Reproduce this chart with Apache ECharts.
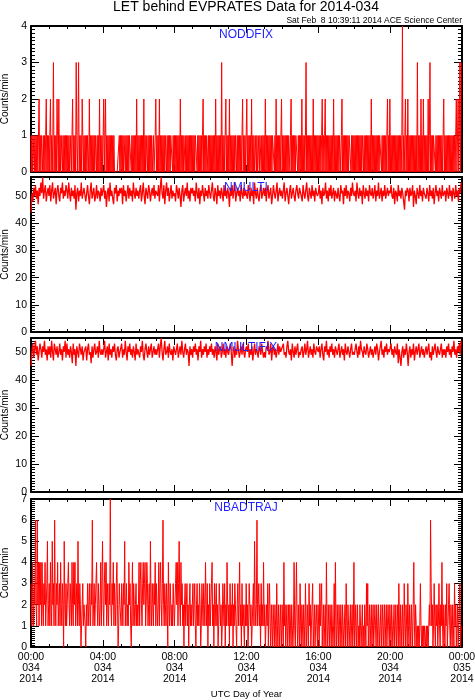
<!DOCTYPE html>
<html>
<head>
<meta charset="utf-8">
<script src="https://cdn.jsdelivr.net/npm/echarts@6/dist/echarts.min.js"></script>
<style>
html,body{margin:0;padding:0;background:#fff}
#chart{width:475px;height:700px}
</style>
</head>
<body>
<div id="chart"></div>
<script>
(function(){

// 2014 day 034, one row per hour
// NODDFIX and NBADTRAJ: a sample every 2 minutes, NMULTI / NMULTIFIX: every 3 minutes
var noddfixStep = 2;
var noddfix = [
  1,0,1,0,1,1,0,1,0,1, 0,1,0,1,2,0,1,0,1,1, 0,1,0,1,0,1,2,0,1,0,
  1,0,1,2,0,1,0,1,3,0, 1,0,1,0,2,1,0,2,0,1, 0,1,1,0,1,0,1,0,1,0,
  1,0,1,0,1,0,0,1,0,1, 2,0,1,0,1,0,3,1,0,1, 3,0,1,0,1,0,2,1,0,1,
  0,1,0,1,0,1,1,0,2,0, 1,0,1,0,1,0,1,0,1,1, 0,1,0,1,0,2,0,1,0,1,
  0,1,2,0,1,2,0,1,0,1, 0,1,0,1,0,1,0,1,0,1, 0,0,0,0,0,0,0,0,1,0,
  1,0,1,0,1,0,1,1,0,1, 0,1,0,1,0,1,1,1,0,1, 0,1,0,1,0,1,0,2,0,1,
  0,1,0,1,0,1,0,1,0,2, 0,1,0,1,1,0,1,0,1,0, 1,0,1,0,0,1,0,0,1,2,
  0,1,0,1,0,2,0,1,0,1, 0,1,0,1,0,1,1,0,1,0, 1,0,1,0,1,1,1,0,1,0,
  1,0,1,0,1,0,1,0,1,0, 2,0,1,0,1,0,1,1,0,1, 0,1,0,1,0,1,0,1,0,1,
  0,1,0,1,0,1,1,1,0,1, 0,1,0,1,0,1,0,1,2,0, 1,0,1,0,1,1,0,1,0,1,
  0,1,0,1,0,1,0,1,0,2, 0,1,0,1,0,1,0,1,0,3, 0,1,0,1,0,1,2,0,1,0,
  1,0,2,0,1,0,1,0,1,0, 1,0,1,1,0,1,0,1,0,1, 0,1,0,1,2,0,1,0,1,0,
  1,2,0,1,0,1,0,1,0,2, 0,1,0,1,0,0,1,0,1,0, 0,1,0,1,1,0,1,0,1,0,
  1,0,2,0,1,0,1,0,1,0, 1,0,1,0,1,1,1,0,1,0, 2,0,1,0,1,0,1,0,1,2,
  0,1,0,1,0,1,0,1,0,1, 0,1,1,0,1,2,0,1,0,1, 0,1,0,1,1,1,0,1,0,1,
  0,1,0,2,0,1,0,1,0,1, 3,0,1,0,1,0,1,0,1,0, 1,0,2,0,1,0,1,0,1,0,
  1,0,1,0,1,0,1,2,0,1, 0,1,2,0,1,0,1,0,1,0, 1,0,1,0,1,0,2,0,1,0,
  1,0,1,0,1,0,1,1,0,1, 2,0,1,0,1,0,1,0,1,0, 1,0,1,1,1,0,1,0,1,0,
  1,0,1,0,1,0,1,0,1,0, 1,0,1,0,1,1,0,1,0,1, 0,1,0,1,0,1,0,1,0,2,
  0,1,0,1,0,1,0,1,0,1, 0,1,0,1,1,1,0,1,0,1, 0,1,0,1,0,1,2,0,1,0,
  2,0,1,0,1,0,1,0,1,0, 1,0,1,0,1,0,1,0,1,0, 1,4,0,1,0,1,2,0,1,0,
  2,0,1,0,1,0,1,0,1,0, 1,0,1,0,1,0,3,0,1,0, 1,0,2,0,1,0,2,0,1,0,
  1,0,1,0,2,0,1,3,0,1, 0,1,0,1,1,1,0,1,0,1, 0,1,0,1,0,1,0,1,0,1,
  2,0,1,0,1,0,1,0,1,0, 1,0,1,0,1,0,1,0,1,0, 1,2,0,1,2,0,1,3,0,3
];

var nmultiStep = 3;
var nmulti = [
  44,51,48,53,50,54,49,52,47,53,50,55,51,57,49,52,54,48,51,53,
  50,54,48,52,55,49,51,53,47,52,54,50,48,53,51,55,49,52,50,54,
  52,49,55,51,48,53,50,52,49,54,45,51,53,48,52,50,55,49,51,53,
  53,48,51,54,50,47,52,55,49,51,53,48,50,54,49,52,51,48,53,50,
  50,54,49,52,46,51,53,48,55,50,52,49,47,53,51,54,48,52,50,53,
  51,53,47,54,50,52,48,51,54,49,53,50,52,48,55,51,49,53,50,52,
  49,52,54,48,51,55,50,47,53,51,49,54,52,48,51,53,50,54,49,52,
  52,50,54,48,53,57,51,49,54,47,52,55,50,53,48,51,54,49,52,50,
  51,48,54,52,49,53,50,46,52,54,48,51,53,50,55,49,52,48,53,51,
  53,50,52,48,55,51,49,53,47,52,50,54,51,48,53,50,52,49,54,51,
  49,52,55,50,48,53,51,47,54,50,52,49,53,51,48,54,50,52,49,53,
  51,46,53,50,54,49,52,55,48,51,53,50,52,48,54,51,49,53,50,52,
  52,49,54,51,48,53,50,52,47,55,51,49,53,50,48,52,54,49,51,53,
  50,53,48,52,54,49,51,53,47,50,54,51,49,52,55,48,51,53,50,52,
  49,52,55,48,51,53,50,47,52,54,49,51,53,50,48,52,54,51,49,53,
  53,50,48,54,51,49,52,55,50,48,53,51,49,54,50,52,48,53,51,50,
  51,54,49,52,47,53,50,51,55,49,52,48,53,50,54,49,51,53,48,52,
  52,49,53,50,48,54,51,52,47,53,50,54,49,52,51,48,53,50,55,51,
  50,52,48,55,51,49,53,50,52,47,54,51,49,53,50,52,48,54,51,50,
  53,49,51,54,48,52,50,55,49,51,53,48,52,50,54,49,51,53,50,52,
  51,54,50,49,53,47,52,51,48,54,50,52,49,53,51,48,45,52,50,53,
  52,48,53,50,51,54,46,52,50,47,53,51,49,54,50,52,48,53,51,50,
  49,53,51,48,54,50,52,49,53,47,51,54,50,52,48,53,51,49,54,50,
  50,52,48,53,51,49,54,50,52,48,53,51,49,54,50,52,48,53,51,55
];

var nmultifixStep = 3;
var nmultifix = [
  45,50,53,48,51,54,49,52,47,50,53,51,48,52,50,54,49,51,47,52,
  49,52,48,54,50,47,53,51,49,52,48,50,53,49,51,47,52,50,54,48,
  53,49,51,48,52,50,46,53,49,51,45,52,50,48,53,51,49,52,47,50,
  50,52,47,51,53,49,50,46,52,48,51,53,49,50,52,48,54,50,49,51,
  49,51,54,48,50,52,47,53,49,51,48,52,50,53,49,47,51,52,48,50,
  50,53,48,51,49,54,50,47,52,50,53,49,51,48,52,50,47,53,49,51,
  51,48,52,50,54,49,47,51,53,50,48,52,49,51,53,48,50,52,49,51,
  49,51,53,48,52,55,50,47,51,54,49,50,52,48,53,50,49,51,47,52,
  52,49,51,53,48,50,52,49,54,50,48,51,53,49,51,50,45,52,49,51,
  48,52,50,53,49,51,47,52,50,54,48,51,49,52,50,53,48,51,49,52,
  50,53,49,51,48,52,50,47,53,49,51,52,48,50,53,49,51,48,52,50,
  49,51,53,50,45,50,52,48,51,49,54,51,48,50,52,49,53,50,48,51,
  52,50,53,48,51,49,52,47,50,53,49,51,50,48,52,51,49,53,50,48,
  50,48,52,51,54,49,50,53,47,51,52,49,51,48,50,53,49,52,50,51,
  51,53,49,50,48,52,54,50,49,51,47,53,50,48,52,49,51,53,48,50,
  49,51,52,48,50,53,49,51,54,48,50,52,49,51,48,53,50,49,52,51,
  50,52,48,51,53,49,47,52,50,54,49,51,48,52,50,53,49,51,48,52,
  52,49,51,53,48,50,52,49,51,47,53,50,49,52,50,48,51,53,49,50,
  49,51,53,50,48,52,49,54,51,50,48,52,50,49,53,51,48,50,52,49,
  51,48,50,52,49,53,51,47,50,52,54,49,51,48,52,50,53,49,51,50,
  50,53,49,51,48,52,50,49,53,46,51,48,45,50,52,48,51,49,53,50,
  45,50,52,48,51,49,53,47,50,52,49,51,53,48,50,52,49,51,48,50,
  52,49,51,53,48,50,47,52,49,51,53,50,48,52,50,49,51,53,48,51,
  49,51,48,52,50,53,49,51,48,52,50,54,49,51,48,52,50,53,49,54
];

var nbadtrajStep = 2;
var nbadtraj = [
  3,2,1,4,2,1,3,2,6,2, 1,6,2,4,1,4,2,4,1,4, 2,1,3,2,4,1,2,3,5,1,
  2,3,1,4,2,1,5,2,3,1, 6,2,1,3,2,4,1,2,3,1, 4,2,1,3,2,0,5,2,1,3,
  1,2,3,4,2,1,3,2,1,4, 2,1,4,2,4,1,2,3,1,5, 2,1,3,2,0,1,2,3,1,2,
  2,1,0,2,1,3,2,1,3,2, 1,3,2,6,1,2,3,1,2,3, 4,2,1,3,2,1,2,4,1,3,
  5,2,1,3,4,2,4,1,3,2, 1,3,2,7,2,1,3,2,4,1, 3,2,1,3,4,2,0,1,3,2,
  2,1,3,2,1,3,2,5,1,2, 3,1,2,1,4,2,3,1,0,2, 4,1,3,2,1,2,3,1,2,1,
  2,4,1,3,4,2,1,3,4,2, 3,4,1,2,4,3,1,2,3,1, 5,2,1,3,2,1,3,2,4,1,
  3,2,1,2,4,1,3,4,2,1, 3,6,2,1,3,2,1,3,2,0, 4,2,1,3,2,1,2,1,3,2,
  1,2,3,4,2,4,1,3,5,2, 1,4,2,3,1,2,0,2,3,1, 2,3,1,2,0,2,3,1,2,1,
  2,3,1,2,3,1,0,2,3,1, 2,1,3,2,0,1,3,2,1,3, 2,1,4,2,1,3,0,2,1,3,
  1,2,3,4,1,2,0,3,1,2, 3,1,2,0,1,3,2,1,2,0, 1,3,2,1,3,0,2,1,4,2,
  1,2,0,3,1,2,1,3,0,2, 1,3,2,1,0,2,3,1,2,4, 1,2,0,3,1,2,1,0,2,1,
  3,1,2,0,1,3,2,1,2,0, 1,2,3,1,5,2,1,2,6,1, 2,3,1,2,0,3,1,2,1,4,
  1,2,0,1,2,1,3,0,2,3, 1,0,2,1,0,2,1,0,2,1, 0,3,1,0,2,1,0,2,1,0,
  2,1,0,4,1,2,0,1,2,0, 1,2,0,2,1,0,2,1,0,1, 4,1,0,2,4,1,0,2,1,0,
  3,1,0,2,1,0,2,1,0,3, 1,0,2,1,0,3,1,2,0,1, 2,3,0,1,2,0,1,2,1,0,
  2,1,0,3,1,2,3,0,1,2, 0,1,2,0,4,1,0,2,1,0, 2,1,0,2,1,0,1,3,0,4,
  1,0,2,1,0,2,1,0,2,1, 0,2,1,0,1,2,0,3,1,0, 2,1,0,1,2,0,1,2,0,1,
  4,0,1,2,0,1,2,0,1,0, 2,1,0,1,2,0,1,0,2,1, 0,3,1,3,0,1,2,0,1,2,
  0,1,2,0,1,2,1,0,2,1, 0,2,1,0,1,2,0,1,2,0, 1,2,0,1,2,0,1,2,1,0,
  2,1,0,2,1,0,1,2,0,1, 2,0,1,2,0,3,1,0,2,1, 0,2,1,0,3,1,0,2,1,0,
  3,1,0,2,1,0,2,1,0,2, 4,1,0,2,1,0,1,0,1,0, 1,3,1,0,1,0,1,0,1,1,
  0,1,0,1,0,1,2,1,6,3, 1,2,0,1,3,1,0,2,1,2, 0,1,3,1,0,2,1,4,1,0,
  2,1,0,2,1,3,0,1,2,3, 1,0,2,1,0,2,1,0,3,1, 2,0,1,2,0,1,2,3,0,1
];

var panelNames = ['NODDFIX', 'NMULTI', 'NMULTIFIX', 'NBADTRAJ'];
var panelData = [noddfix, nmulti, nmultifix, nbadtraj];
var panelSteps = [noddfixStep, nmultiStep, nmultifixStep, nbadtrajStep];
var yIntervals = [1, 10, 10, 1];

var hourLabels = ['00:00', '04:00', '08:00', '12:00', '16:00', '20:00', '00:00'];
var dayLabels = ['034', '034', '034', '034', '034', '034', '035'];
var yearLabel = '2014';

var FONT = "'Liberation Sans', Arial, sans-serif";
var grids = [
  {left: 31, right: 13, top: 26, height: 146, outerBoundsMode: 'none'},
  {left: 31, right: 13, top: 177, height: 155, outerBoundsMode: 'none'},
  {left: 31, right: 13, top: 338, height: 154, outerBoundsMode: 'none'},
  {left: 31, right: 13, top: 499, height: 148, outerBoundsMode: 'none'}
];
var labelY = [35, 188, 348, 508];

// one axis; major ones carry the frame line, minor ones only short ticks
function makeAxis(gi, pos, interval, tickLen, major, axMax) {
  return {
    gridIndex: gi, type: 'value', position: pos,
    min: 0, max: axMax, interval: interval,
    axisLine: {show: major, onZero: false, lineStyle: {color: '#000', width: 2}},
    axisTick: {show: true, inside: true, length: tickLen, lineStyle: {color: '#000', width: 1}},
    splitLine: {show: false},
    axisLabel: {show: false}
  };
}

var xAxes = [], yAxes = [], series = [], texts = [];
panelData.forEach(function(arr, gi) {
  var yi = yIntervals[gi];
  // y range runs from 0 to the largest count of the panel
  var yMax = Math.max.apply(null, arr);
  ['bottom', 'top'].forEach(function(pos) {
    xAxes.push(makeAxis(gi, pos, 240, 7, true, 1440));
    xAxes.push(makeAxis(gi, pos, 60, 3, false, 1440));
  });
  ['left', 'right'].forEach(function(pos) {
    yAxes.push(makeAxis(gi, pos, yi, 8, true, yMax));
    yAxes.push(makeAxis(gi, pos, yi / 10, 4, false, yMax));
  });

  var yMain = yAxes[gi * 4];
  yMain.axisLabel = {
    show: true, color: '#000', fontFamily: FONT, fontSize: 10.5, margin: 4,
    inside: false, align: 'right',
    showMaxLabel: yMax % yi === 0
  };
  yMain.name = 'Counts/min';
  yMain.nameLocation = 'middle';
  yMain.nameGap = 21;
  yMain.nameMoveOverlap = false;
  yMain.nameTextStyle = {color: '#000', fontFamily: FONT, fontSize: 10};

  if (gi === 3) {
    var xMain = xAxes[gi * 4];
    xMain.axisLabel = {
      show: true, color: '#000', fontFamily: FONT, fontSize: 10.5, lineHeight: 11, margin: 5,
      formatter: function(v) {
        var k = Math.round(v / 240);
        return hourLabels[k] + '\n' + dayLabels[k] + '\n' + yearLabel;
      }
    };
    xMain.name = 'UTC Day of Year';
    xMain.nameLocation = 'middle';
    xMain.nameGap = 42;
    xMain.nameMoveOverlap = false;
    xMain.nameTextStyle = {color: '#000', fontFamily: FONT, fontSize: 9.5};
  }

  var step = panelSteps[gi];
  series.push({
    type: 'line',
    xAxisIndex: gi * 4, yAxisIndex: gi * 4,
    step: yi === 1 ? 'middle' : false,
    showSymbol: false,
    silent: true,
    lineStyle: {color: '#ff0000', width: yi === 1 ? 1 : 1.3},
    data: arr.map(function(v, i) { return [i * step, v]; })
  });

  texts.push({
    type: 'text', z: 100,
    style: {
      text: panelNames[gi], x: 246, y: labelY[gi],
      fill: '#1f1fff', font: '12px ' + FONT,
      textAlign: 'center', textVerticalAlign: 'middle'
    }
  });
});

texts.push({
  type: 'text', z: 100,
  style: {
    text: 'LET behind EVPRATES Data for 2014-034', x: 246, y: 7,
    fill: '#000', font: '14px ' + FONT,
    textAlign: 'center', textVerticalAlign: 'middle'
  }
});
texts.push({
  type: 'text', z: 100,
  style: {
    text: 'Sat Feb  8 10:39:11 2014 ACE Science Center', x: 462, y: 20.5,
    fill: '#000', font: '8.5px ' + FONT,
    textAlign: 'right', textVerticalAlign: 'middle'
  }
});

var chart = echarts.init(document.getElementById('chart'));
chart.setOption({
  animation: false,
  backgroundColor: '#fff',
  grid: grids,
  xAxis: xAxes,
  yAxis: yAxes,
  series: series,
  graphic: texts
});

})();
</script>
</body>
</html>
